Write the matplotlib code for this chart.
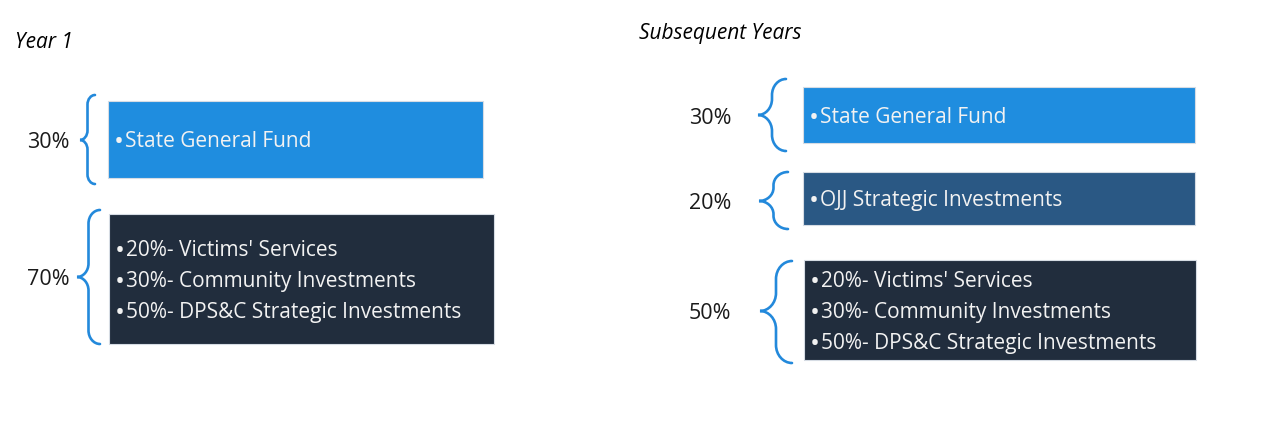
import matplotlib
matplotlib.use("Agg")
import matplotlib.pyplot as plt
from matplotlib.patches import Rectangle, PathPatch
from matplotlib.path import Path

plt.rcParams['font.family'] = ['Open Sans', 'DejaVu Sans']

# data
panel_titles = ["Year 1", "Subsequent Years"]
year1_shares = ["30%", "70%"]
year1_items = [["State General Fund"],
               ["20%- Victims' Services", "30%- Community Investments",
                "50%- DPS&C Strategic Investments"]]
later_shares = ["30%", "20%", "50%"]
later_items = [["State General Fund"],
               ["OJJ Strategic Investments"],
               ["20%- Victims' Services", "30%- Community Investments",
                "50%- DPS&C Strategic Investments"]]

# layout in pixels: (left, top, right, bottom), brace (tip x, right x, top, bottom, tip y)
year1_boxes = [(108, 102, 483, 179), (109, 215, 494, 345)]
year1_braces = [(80, 95, 96, 185, 141), (77, 100, 211, 345, 278)]
later_boxes = [(803, 88, 1195, 144), (803, 173, 1195, 226), (804, 261, 1196, 361)]
later_braces = [(758, 786, 80, 152, 116), (759, 788, 173, 230, 202), (760, 792, 262, 364, 312)]
box_colors = ["#1f8ddf", "#2a5884", "#212d3d"]
brace_color = "#2389db"

fig = plt.figure(figsize=(12.8, 4.35), dpi=100)
ax = fig.add_axes([0, 0, 1, 1])
ax.set_xlim(0, 1280)
ax.set_ylim(435, 0)
ax.axis('off')


def brace(ax, xt, xr, yt, yb, ym):
    xm = (xt + xr) / 2
    r = min((xr - xt) / 2 + 2, (ym - yt) / 2.2)
    k = 0.55
    verts = [(xr, yt), (xr - k * (xr - xm), yt), (xm, yt + r - k * r), (xm, yt + r),
             (xm, ym - r),
             (xm, ym - r + k * r), (xt + k * (xm - xt), ym), (xt, ym),
             (xt + k * (xm - xt), ym), (xm, ym + r - k * r), (xm, ym + r),
             (xm, yb - r),
             (xm, yb - r + k * r), (xr - k * (xr - xm), yb), (xr, yb)]
    codes = [Path.MOVETO, Path.CURVE4, Path.CURVE4, Path.CURVE4,
             Path.LINETO,
             Path.CURVE4, Path.CURVE4, Path.CURVE4,
             Path.CURVE4, Path.CURVE4, Path.CURVE4,
             Path.LINETO,
             Path.CURVE4, Path.CURVE4, Path.CURVE4]
    ax.add_patch(PathPatch(Path(verts, codes), fill=False, ec=brace_color, lw=1.9,
                           capstyle='round'))


def panel(ax, shares, items, boxes, braces, colors, label_x):
    for share, lines, b, br, c in zip(shares, items, boxes, braces, colors):
        l, t, r, bt = b
        ax.add_patch(Rectangle((l, t), r - l, bt - t, fc=c, ec="#d6dce4", lw=0.8))
        cy = (t + bt) / 2 + 1.5
        n = len(lines)
        for k, line in enumerate(lines):
            y = cy + (k - (n - 1) / 2) * 31
            ax.text(l + 11, y + 1, "\u2022", color="#f2f2f2", fontsize=19,
                    ha='center', va='center')
            ax.text(l + 17, y, line, color="#f2f2f2", fontsize=15,
                    ha='left', va='center')
        brace(ax, *br)
        ax.text(label_x, br[4] + 2, share, fontsize=15.5, color="#1a1a1a",
                ha='left', va='center')


ax.text(15, 43, panel_titles[0], fontsize=15, style='italic', color='black',
        ha='left', va='center')
ax.text(639, 34, panel_titles[1], fontsize=15, style='italic', color='black',
        ha='left', va='center')

panel(ax, year1_shares, year1_items, year1_boxes, year1_braces,
      [box_colors[0], box_colors[2]], 27)
panel(ax, later_shares, later_items, later_boxes, later_braces,
      box_colors, 689)

fig.savefig("out.png", dpi=100)
